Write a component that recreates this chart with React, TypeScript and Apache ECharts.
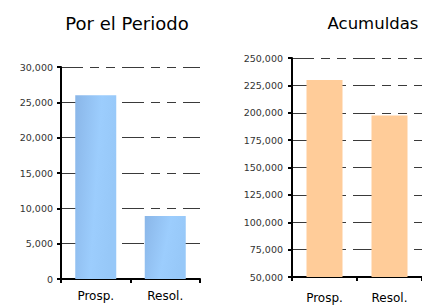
import React, { useEffect, useRef } from "react";
import * as echarts from "echarts";

const categories = ["Prosp.", "Resol."];
const periodValues = [26000, 8900];
const cumulativeValues = [230000, 197500];
const titles = ["Por el Periodo", "Acumuldas"];

export default function App() {
  const ref = useRef<HTMLDivElement>(null);
  useEffect(() => {
    if (!ref.current) return;
    const chart = echarts.init(ref.current, null, { renderer: "svg" });
    const font = "DejaVu Sans, Verdana, sans-serif";
    const splitLine = {
      show: true,
      lineStyle: { color: "#3a3a3a", width: 1, type: [22, 7, 9, 7, 9, 7] as any },
    };
    const yLabel = {
      fontFamily: font,
      fontSize: 9.5,
      color: "#333",
      margin: 8,
      formatter: (v: number) => v.toLocaleString("en-US"),
    };
    const axisLine = { show: true, lineStyle: { color: "#000", width: 2 } };
    const axisTick = { show: true, length: 4, lineStyle: { color: "#000", width: 2 } };
    const titleStyle = { fontFamily: font, fontSize: 18, fontWeight: "normal", color: "#000" };
    chart.setOption({
      animation: false,
      title: [
        { text: titles[0], left: 122, top: 9, textAlign: "center", textStyle: titleStyle },
        {
          text: titles[1],
          left: 368,
          top: 10,
          textAlign: "center",
          textStyle: { ...titleStyle, fontSize: 16.5 },
        },
      ],
      grid: [
        { left: 61, top: 67, width: 139, height: 212 },
        { left: 292, top: 58, width: 130, height: 219 },
      ],
      xAxis: [0, 1].map((i) => ({
        type: "category",
        gridIndex: i,
        data: categories,
        boundaryGap: true,
        axisLine,
        axisTick: { ...axisTick, alignWithLabel: false },
        axisLabel: { fontFamily: font, fontSize: 12, color: "#000", margin: i === 0 ? 11 : 15 },
      })),
      yAxis: [
        {
          type: "value",
          gridIndex: 0,
          min: 0,
          max: 30000,
          interval: 5000,
          axisLine,
          axisTick,
          axisLabel: yLabel,
          splitLine,
        },
        {
          type: "value",
          gridIndex: 1,
          min: 50000,
          max: 250000,
          interval: 25000,
          axisLine,
          axisTick,
          axisLabel: { ...yLabel, margin: 9 },
          splitLine,
        },
      ],
      series: [
        {
          type: "bar",
          xAxisIndex: 0,
          yAxisIndex: 0,
          data: periodValues,
          barWidth: 41,
          itemStyle: {
            color: new echarts.graphic.LinearGradient(0, 0, 1, 0.3, [
              { offset: 0, color: "#8AB6E8" },
              { offset: 0.6, color: "#9CCDFD" },
              { offset: 1, color: "#97C8F8" },
            ]),
          },
        },
        {
          type: "bar",
          xAxisIndex: 1,
          yAxisIndex: 1,
          data: cumulativeValues,
          barWidth: 36,
          itemStyle: { color: "#FFCC99" },
        },
      ],
    });
    return () => chart.dispose();
  }, []);
  return (
    <div
      ref={ref}
      style={{ position: "fixed", left: 0, top: 0, width: 422, height: 306, background: "#fff" }}
    />
  );
}
